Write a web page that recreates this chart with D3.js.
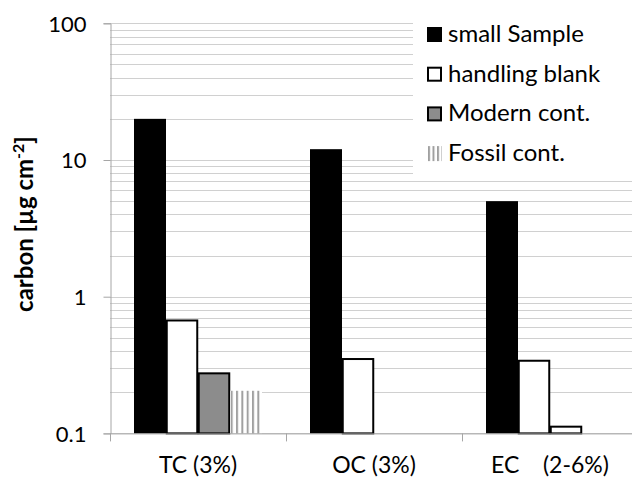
<!DOCTYPE html>
<html>
<head>
<meta charset="utf-8">
<script src="https://cdn.jsdelivr.net/npm/d3@7"></script>
<style>
  html, body { margin: 0; padding: 0; background: #fff; }
  text { font-family: Lato, "Open Sans", sans-serif; fill: #000; }
</style>
</head>
<body>
<script>
// ---- data ----
const categories = ["TC (3%)", "OC (3%)", "EC    (2-6%)"];
const seriesNames = ["small Sample", "handling blank", "Modern cont.", "Fossil cont."];
const smallSample   = [20, 12, 5];
const handlingBlank = [0.67, 0.35, 0.34];
const modernCont    = [0.275, null, 0.112];
const fossilCont    = [0.205, null, null];
const yTickValues   = [0.1, 1, 10, 100];
const yTickLabels   = ["0.1", "1", "10", "100"];

const seriesValues = [smallSample, handlingBlank, modernCont, fossilCont];

const W = 632, H = 479;
const svg = d3.select("body").append("svg").attr("width", W).attr("height", H);

const defs = svg.append("defs");
const pat = defs.append("pattern").attr("id", "fossil")
  .attr("patternUnits", "userSpaceOnUse").attr("width", 5.33).attr("height", 10)
  .attr("x", 1.5);
pat.append("rect").attr("width", 5.33).attr("height", 10).attr("fill", "#fff");
pat.append("rect").attr("x", 0).attr("width", 2).attr("height", 10).attr("fill", "#a0a0a0");

const legPat = defs.append("pattern").attr("id", "fossilLeg")
  .attr("patternUnits", "userSpaceOnUse").attr("width", 4.5).attr("height", 10)
  .attr("x", 428);
legPat.append("rect").attr("width", 4.5).attr("height", 10).attr("fill", "#fff");
legPat.append("rect").attr("x", 0).attr("width", 2).attr("height", 10).attr("fill", "#a0a0a0");

const plotLeft = 110, plotRight = 638, plotTop = 23.3, plotBottom = 433.4;

const y = d3.scaleLog().domain([0.1, 100]).range([plotBottom, plotTop]);
const pIn = 48 / 176;
const x0 = d3.scaleBand().domain(categories).range([plotLeft, plotRight])
  .paddingInner(pIn).paddingOuter(pIn / 2);
const x1 = d3.scaleBand().domain(seriesNames).range([0, x0.bandwidth()]);

// gridlines (major + minor)
const gridVals = [];
for (let e = -1; e < 2; e++) {
  for (let k = 1; k <= 9; k++) gridVals.push(k * Math.pow(10, e));
}
gridVals.push(100);
svg.append("g").selectAll("line").data(gridVals).join("line")
  .attr("x1", plotLeft).attr("x2", W)
  .attr("y1", d => Math.round(y(d)) + 0.5).attr("y2", d => Math.round(y(d)) + 0.5)
  .attr("stroke", "#d0d0d0").attr("stroke-width", 1.2);

// bars
const fills = ["#000", "#fff", "#8c8c8c", "url(#fossil)"];
const strokes = ["none", "#000", "#000", "none"];
const barData = [];
seriesValues.forEach((vals, si) => {
  vals.forEach((v, ci) => {
    if (v != null) barData.push({ s: seriesNames[si], si, c: categories[ci], ci, v });
  });
});
const barFill = d => (d.si === 2 && d.ci === 2) ? "#fff" : fills[d.si];
svg.append("g").selectAll("rect").data(barData).join("rect")
  .attr("x", d => x0(d.c) + x1(d.s) + (strokes[d.si] === "none" ? 0 : 0.75))
  .attr("width", d => x1.bandwidth() - (strokes[d.si] === "none" ? 0 : 1.5))
  .attr("y", d => y(d.v))
  .attr("height", d => y(0.1) - y(d.v))
  .attr("fill", barFill)
  .attr("stroke", d => strokes[d.si])
  .attr("stroke-width", 2);

// y axis
const yAxis = d3.axisLeft(y).tickValues(yTickValues)
  .tickFormat((d, i) => yTickLabels[i]).tickSizeOuter(0).tickSize(7).tickPadding(17);
const gy = svg.append("g").attr("transform", `translate(${plotLeft + 0.5},0)`).call(yAxis);
gy.select(".domain").attr("stroke", "#a6a6a6");
gy.selectAll(".tick line").attr("stroke", "#a6a6a6");
gy.selectAll(".tick text").attr("font-size", 22).attr("font-family", "Lato, sans-serif")
  .attr("dy", "0.36em");

// x axis line
svg.append("line").attr("x1", plotLeft).attr("x2", W)
  .attr("y1", plotBottom + 0.5).attr("y2", plotBottom + 0.5)
  .attr("stroke", "#a6a6a6");
// category boundary ticks
const bounds = categories.map(c => x0(c) - x0.step() * pIn / 2);
svg.append("g").selectAll("line").data(bounds).join("line")
  .attr("x1", d => Math.round(d) + 0.5).attr("x2", d => Math.round(d) + 0.5)
  .attr("y1", plotBottom).attr("y2", plotBottom + 8)
  .attr("stroke", "#a6a6a6");
// category labels
svg.append("g").selectAll("text").data(categories).join("text")
  .attr("x", c => x0(c) + x0.bandwidth() / 2)
  .attr("y", 473)
  .attr("text-anchor", "middle")
  .attr("font-size", 23)
  .style("white-space", "pre")
  .text(c => c);

// y title
const yt = svg.append("text")
  .attr("transform", "translate(33,224) rotate(-90)")
  .attr("text-anchor", "middle")
  .attr("font-size", 24).attr("font-weight", "bold");
yt.append("tspan").text("carbon [µg cm");
yt.append("tspan").attr("dy", -9).attr("font-size", 16).text("-2");
yt.append("tspan").attr("dy", 9).text("]");

// legend
svg.append("rect").attr("x", 413).attr("y", 12).attr("width", 219).attr("height", 163)
  .attr("fill", "#fff");
const leg = svg.append("g").selectAll("g").data(seriesNames).join("g")
  .attr("transform", (d, i) => `translate(0,${27 + i * 39.7})`);
leg.append("rect")
  .attr("x", (d, i) => strokes[i] === "none" ? 427 : 428)
  .attr("y", (d, i) => strokes[i] === "none" ? 0 : 1)
  .attr("width", (d, i) => strokes[i] === "none" ? 15 : 13)
  .attr("height", (d, i) => strokes[i] === "none" ? 15 : 13)
  .attr("fill", (d, i) => i === 3 ? "url(#fossilLeg)" : fills[i])
  .attr("stroke", (d, i) => strokes[i]).attr("stroke-width", 2);
leg.append("text").attr("x", 448).attr("y", 15)
  .attr("font-size", 24).text(d => d);
</script>
</body>
</html>
